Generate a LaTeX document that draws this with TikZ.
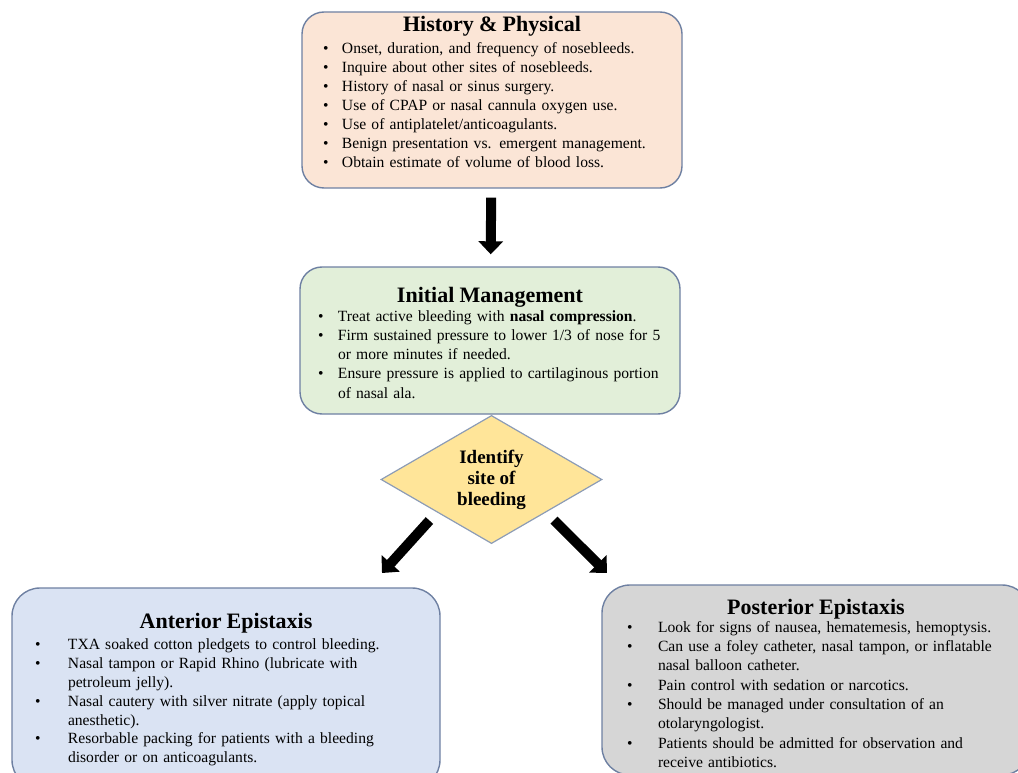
\documentclass[tikz,border=0pt]{standalone}
\usepackage{fontspec}
\setmainfont{Liberation Serif}
\usetikzlibrary{shapes.geometric,arrows.meta,calc}

\definecolor{edgeblue}{RGB}{110,128,162}
\definecolor{diamedge}{RGB}{140,156,182}
\definecolor{hpfill}{RGB}{251,229,214}
\definecolor{initfill}{RGB}{226,239,217}
\definecolor{diamfill}{RGB}{255,229,153}
\definecolor{antfill}{RGB}{218,227,243}
\definecolor{postfill}{RGB}{214,214,214}

\hyphenpenalty=10000
\newlength{\bulw}
\newcommand{\bul}[1]{\par\noindent\hangindent=\bulw\hangafter=1\hbox to\bulw{\textbullet\hfil}#1\par}
\newcommand{\ttl}[2]{{\centering\bfseries\fontsize{22}{24}\selectfont #1\par}\vspace{#2}}

\tikzset{
  box/.style={draw=edgeblue, line width=1.4pt, rounded corners=22pt},
  txt/.style={inner sep=0pt, align=left, anchor=base},
  bigarr/.style={line width=10pt, -{Triangle[width=24pt,length=13pt]}}
}

\begin{document}
\begin{tikzpicture}[x=1pt,y=-1pt]
\useasboundingbox (0,0) rectangle (1018,773);
\clip (0,0) rectangle (1018,773);
\coordinate (antTip) at (382,573);
\coordinate (postTip) at (607,573);

\node[box, fill=hpfill, minimum width=380pt, minimum height=176pt] (hp) at (492,100) {};
\node[box, fill=initfill, minimum width=380pt, minimum height=147pt] (init) at (490,340.5) {};
\node[draw=diamedge, line width=1.2pt, fill=diamfill, diamond, inner sep=0pt,
      minimum width=221pt, minimum height=115pt, align=center,
      font=\bfseries\fontsize{19}{21}\selectfont] (diam) at (491.5,479.5) {Identify\\site of\\bleeding};
\node[box, rounded corners=28pt, fill=antfill, minimum width=428pt, minimum height=200pt] (ant) at (226,688) {};
\node[box, rounded corners=28pt, fill=postfill, minimum width=428pt, minimum height=190pt] (post) at (816,680) {};

\node[txt, text width=338pt, font=\fontsize{15.6}{19.1}\selectfont] (hptxt) at (492,32) {\setlength{\bulw}{19pt}%
\ttl{History \& Physical}{2.2pt}%
\bul{Onset, duration, and frequency of nosebleeds.}
\bul{Inquire about other sites of nosebleeds.}
\bul{History of nasal or sinus surgery.}
\bul{Use of CPAP or nasal cannula oxygen use.}
\bul{Use of antiplatelet/anticoagulants.}
\bul{Benign presentation vs. emergent management.}
\bul{Obtain estimate of volume of blood loss.}};

\node[txt, text width=344pt, font=\fontsize{15.6}{19.2}\selectfont] (inittxt) at (490,302) {\setlength{\bulw}{20pt}%
\ttl{Initial Management}{0pt}%
\bul{Treat active bleeding with \textbf{nasal compression}.}
\bul{Firm sustained pressure to lower 1/3 of nose for 5\newline or more minutes if needed.}
\bul{Ensure pressure is applied to cartilaginous portion\newline of nasal ala.}};

\node[txt, text width=382pt, font=\fontsize{15.6}{18.8}\selectfont] (anttxt) at (226,628) {\setlength{\bulw}{33pt}%
\ttl{Anterior Epistaxis}{3pt}%
\bul{TXA soaked cotton pledgets to control bleeding.}
\bul{Nasal tampon or Rapid Rhino (lubricate with\newline petroleum jelly).}
\bul{Nasal cautery with silver nitrate (apply topical\newline anesthetic).}
\bul{Resorbable packing for patients with a bleeding\newline disorder or on anticoagulants.}};

\node[txt, text width=378pt, font=\fontsize{15.6}{19.3}\selectfont] (posttxt) at (816,614) {\setlength{\bulw}{31pt}%
\ttl{Posterior Epistaxis}{-1pt}%
\bul{Look for signs of nausea, hematemesis, hemoptysis.}
\bul{Can use a foley catheter, nasal tampon, or inflatable\newline nasal balloon catheter.}
\bul{Pain control with sedation or narcotics.}
\bul{Should be managed under consultation of an\newline otolaryngologist.}
\bul{Patients should be admitted for observation and\newline receive antibiotics.}};

\draw[bigarr, shorten <=9pt, shorten >=12pt] (hp) -- (init);
\draw[bigarr, shorten <=11pt] (diam.211) -- (antTip);
\draw[bigarr, shorten <=11pt] (diam.329) -- (postTip);
\end{tikzpicture}
\end{document}
